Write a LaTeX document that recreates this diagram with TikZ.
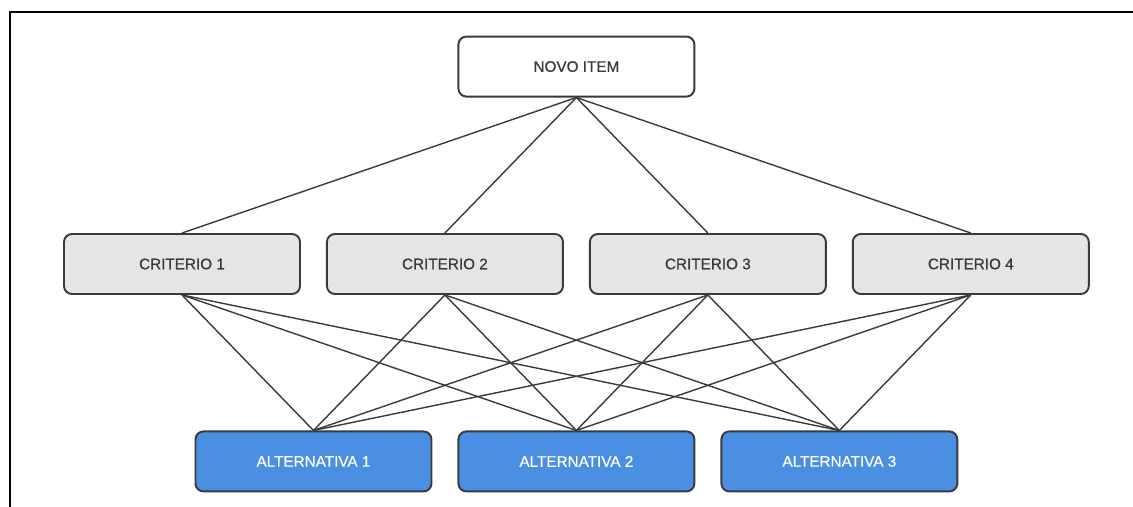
\documentclass[tikz,border=0pt]{standalone}
\usepackage{fontspec}
\setmainfont{Liberation Sans}
\usetikzlibrary{positioning}
\usetikzlibrary{calc}
\definecolor{boxline}{HTML}{3A3A3A}
\definecolor{critfill}{HTML}{E5E5E5}
\definecolor{altfill}{HTML}{4A8FE2}
\tikzset{
  box/.style         = { rectangle, minimum width=4.72cm, minimum height=1.2cm, inner sep=0pt },
  border/.style      = { line width=1.1pt, draw=boxline },
  round/.style       = { rounded corners=1.6mm },
}
\tikzset{
  itembox/.style     = { box, border, round, fill=white, text=boxline },
  criterion/.style   = { box, border, round, fill=critfill, text=boxline },
  alternative/.style = { box, border, round, fill=altfill, text=white },
  link/.style        = { line width=0.8pt, draw=boxline },
  frame/.style       = { line width=1.1pt, draw=black }
}

\begin{document}
\begin{tikzpicture}[
  node distance=2.71cm and 0.5cm,
  font=\fontsize{8.7}{10}\selectfont\addfontfeature{FakeBold=0.6}
]
  \useasboundingbox (-3.64,-4.86) rectangle (19.02,5.28);
  \draw [frame] (-3.44,-4.86) |- (19.02,5.04);

  \node (crit1) [criterion]                {CRITERIO 1};
  \node (crit2) [criterion,right=of crit1] {CRITERIO 2};
  \node (crit3) [criterion,right=of crit2] {CRITERIO 3};
  \node (crit4) [criterion,right=of crit3] {CRITERIO 4};

  \node (item)  [itembox,above=of {$(crit2.north)!0.5!(crit3.north)$}]   {NOVO ITEM};

  \node (alt2)  [alternative,below=of {$(crit2.south)!0.5!(crit3.south)$}] {ALTERNATIVA 2};
  \node (alt1)  [alternative,left=of alt2]  {ALTERNATIVA 1};
  \node (alt3)  [alternative,right=of alt2] {ALTERNATIVA 3};

  \draw [link] (item.south)  -- (crit1.north);
  \draw [link] (item.south)  -- (crit2.north);
  \draw [link] (item.south)  -- (crit3.north);
  \draw [link] (item.south)  -- (crit4.north);

  \draw [link] (crit1.south) -- (alt1.north);
  \draw [link] (crit1.south) -- (alt2.north);
  \draw [link] (crit1.south) -- (alt3.north);
  \draw [link] (crit2.south) -- (alt1.north);
  \draw [link] (crit2.south) -- (alt2.north);
  \draw [link] (crit2.south) -- (alt3.north);
  \draw [link] (crit3.south) -- (alt1.north);
  \draw [link] (crit3.south) -- (alt2.north);
  \draw [link] (crit3.south) -- (alt3.north);
  \draw [link] (crit4.south) -- (alt1.north);
  \draw [link] (crit4.south) -- (alt2.north);
  \draw [link] (crit4.south) -- (alt3.north);
\end{tikzpicture}
\end{document}
